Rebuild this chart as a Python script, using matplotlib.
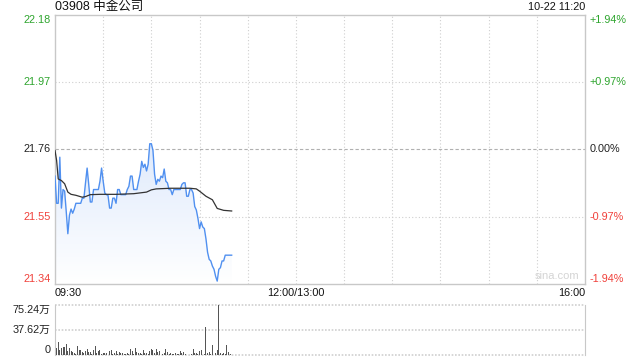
import numpy as np
import matplotlib
matplotlib.use("Agg")
import matplotlib.pyplot as plt
from matplotlib.colors import LinearSegmentedColormap
from matplotlib.transforms import blended_transform_factory

plt.rcParams["font.family"] = ["Liberation Sans", "Noto Sans CJK SC", "DejaVu Sans"]

# ---------------------------------------------------------------------------
# Data (03908, 09:30 - 11:20, one value per minute)
# ---------------------------------------------------------------------------
PREV_CLOSE = 21.76

price = [
    21.677, 21.592, 21.592, 21.736, 21.577, 21.635, 21.630, 21.566, 21.497, 21.555,
    21.574, 21.561, 21.574, 21.592, 21.592, 21.592, 21.592, 21.608, 21.608, 21.656,
    21.702, 21.651, 21.596, 21.596, 21.635, 21.635, 21.635, 21.635, 21.661, 21.702,
    21.661, 21.624, 21.619, 21.617, 21.577, 21.577, 21.608, 21.608, 21.592, 21.635,
    21.635, 21.619, 21.619, 21.619, 21.619, 21.635, 21.645, 21.677, 21.677, 21.635,
    21.635, 21.635, 21.661, 21.683, 21.723, 21.704, 21.714, 21.693, 21.714, 21.778,
    21.778, 21.757, 21.683, 21.651, 21.667, 21.661, 21.677, 21.672, 21.699, 21.661,
    21.656, 21.635, 21.635, 21.619, 21.635, 21.635, 21.635, 21.635, 21.635, 21.651,
    21.656, 21.656, 21.614, 21.614, 21.635, 21.635, 21.624, 21.582, 21.571, 21.545,
    21.513, 21.534, 21.518, 21.513, 21.481, 21.439, 21.417, 21.412, 21.396, 21.386,
    21.364, 21.349, 21.386, 21.391, 21.412, 21.412, 21.430, 21.430, 21.430, 21.430,
    21.430,
]

avg_minutes = [0, 1, 2, 4, 6, 8, 10, 13, 17, 19, 22, 28, 38, 49, 57, 60, 63,
               72, 84, 88, 90, 94, 98, 101, 105, 110]
avg_price = [21.757, 21.726, 21.668, 21.663, 21.653, 21.627, 21.620, 21.617,
             21.611, 21.613, 21.619, 21.620, 21.620, 21.622, 21.627, 21.634,
             21.637, 21.639, 21.639, 21.637, 21.630, 21.614, 21.603, 21.576,
             21.570, 21.568]

# volume in 万 shares
volume = [
    15, 10, 20, 8, 11, 12.5, 12.5, 16.5, 6, 10,
    6, 4, 2.5, 1.5, 13.5, 7, 7, 5, 3, 6,
    9, 4, 5, 2, 7, 13.5, 3, 6, 7, 1.5,
    2.5, 3, 3, 16.5, 6, 7, 2, 3, 6, 2,
    4, 3, 3, 2, 2, 3, 1, 9, 6, 2,
    10, 4, 3, 3, 1, 7, 3.5, 3.5, 2, 6.5,
    9, 7.5, 3, 9, 5, 6.5, 4, 1, 2.5, 8.5,
    4, 2, 2.5, 1, 1.5, 2.5, 1, 1.5, 6.5, 2.5,
    5, 2, 0.5, 0.5, 0.5, 1, 8.5, 3.5, 3.5, 1,
    6.5, 7.5, 0.5, 1.5, 42.5, 3.5, 5, 2, 15, 2.5,
    3.5, 7.5, 75.24, 2.5, 2, 2.5, 1, 15, 4, 1.5,
    0.5,
]

price_ticks = [22.18, 21.97, 21.76, 21.55, 21.34]
pct_labels = ["+1.94%", "+0.97%", "0.00%", "-0.97%", "-1.94%"]
vol_ticks = [75.24, 37.62, 0]
vol_labels = ["75.24万", "37.62万", "0"]

GREEN = "#2ea52e"
RED = "#f0403a"
BLUE = "#5090f0"
GRID = "#cfcfcf"
FRAME = "#c8c8c8"
TOTAL_MIN = 330  # 09:30-12:00 + 13:00-16:00

minutes = np.arange(len(price))
vol_minutes = np.arange(len(volume))

fig = plt.figure(figsize=(6.4, 3.6), dpi=100)
ax = fig.add_axes([55 / 640, 76 / 360, 530 / 640, 269 / 360])
vax = fig.add_axes([55 / 640, 5 / 360, 530 / 640, 50 / 360])

# --- price panel -----------------------------------------------------------
ax.set_xlim(0, TOTAL_MIN)
ax.set_ylim(price_ticks[-1], price_ticks[0])

# gradient fill under the price line
poly = ax.fill_between(minutes, price, price_ticks[-1], color="none")
cmap = LinearSegmentedColormap.from_list("fade", ["#ffffff", "#dfeafc"])
grad = np.linspace(1, 0, 256).reshape(-1, 1)
im = ax.imshow(grad, cmap=cmap, aspect="auto", zorder=1,
               extent=[0, len(price) - 1, price_ticks[-1], max(price)])
im.set_clip_path(poly.get_paths()[0], transform=ax.transData)

for v in price_ticks[1:-1]:
    if v == PREV_CLOSE:
        ax.axhline(v, color="#b0b0b0", lw=0.8, ls=(0, (3, 2)), zorder=0)
    else:
        ax.axhline(v, color=GRID, lw=0.8, ls=(0, (1, 2)), zorder=0)
for m in range(30, TOTAL_MIN, 30):
    ax.axvline(m, color=GRID, lw=0.8, ls=(0, (1, 2)), zorder=0)

ax.plot(minutes, price, color=BLUE, lw=1.0, zorder=3)
ax.plot(avg_minutes, avg_price, color="#333333", lw=0.9, zorder=4)

ax.set_xticks([])
ax.set_yticks([])
for s in ax.spines.values():
    s.set_color(FRAME)
    s.set_linewidth(1)

left_tr = blended_transform_factory(ax.transAxes, ax.transData)
for i, (v, pl) in enumerate(zip(price_ticks, pct_labels)):
    if v > PREV_CLOSE:
        col = GREEN
    elif v < PREV_CLOSE:
        col = RED
    else:
        col = "#222222"
    va = "top" if i == 0 else ("bottom" if i == len(price_ticks) - 1 else "center")
    ax.text(-0.008, v, f"{v:.2f}", transform=left_tr, ha="right", va=va,
            color=col, fontsize=7.8)
    ax.text(1.009, v, pl, transform=left_tr, ha="left", va=va,
            color=col, fontsize=7.8)

ax.text(0.99, 0.012, "sina.com", transform=ax.transAxes, ha="right",
        va="bottom", color="#d4d4d4", fontsize=8)

# --- volume panel ----------------------------------------------------------
vax.bar(vol_minutes, volume, width=0.6, color="#555555", zorder=3)
vax.set_xlim(0, TOTAL_MIN)
vax.set_ylim(0, vol_ticks[0])
vax.set_xticks([])
vax.set_yticks([])
vax.spines["top"].set_visible(False)
vax.spines["bottom"].set_visible(False)
for side in ("left", "right"):
    vax.spines[side].set_color(FRAME)
for i, (v, lab) in enumerate(zip(vol_ticks, vol_labels)):
    vax.axhline(v, color=GRID, lw=1.2, ls=(0, (1, 1)), zorder=1, clip_on=False)
    va = "top" if i == 0 else ("bottom" if i == len(vol_ticks) - 1 else "center")
    vax.text(-0.008, v, lab, transform=blended_transform_factory(vax.transAxes, vax.transData),
             ha="right", va=va, color="#222222", fontsize=7.8)

# --- header / time labels --------------------------------------------------
fig.text(55 / 640, 1 - 7 / 360, "03908 中金公司", ha="left", va="center",
         fontsize=9, color="#111111")
fig.text(585 / 640, 1 - 7 / 360, "10-22 11:20", ha="right", va="center",
         fontsize=7.8, color="#111111")
ty = 1 - 293 / 360
fig.text(55 / 640, ty, "09:30", ha="left", va="center", fontsize=7.8, color="#111111")
fig.text(296 / 640, ty, "12:00/13:00", ha="center", va="center", fontsize=7.8, color="#111111")
fig.text(585 / 640, ty, "16:00", ha="right", va="center", fontsize=7.8, color="#111111")

fig.savefig("out.png", dpi=100)
